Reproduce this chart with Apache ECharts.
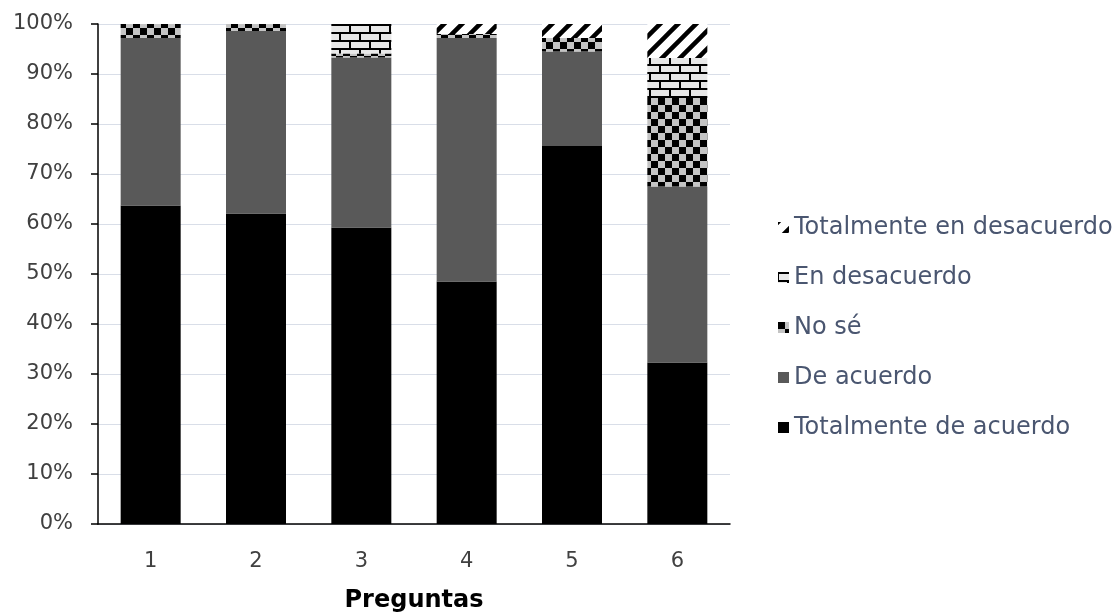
<!DOCTYPE html>
<html>
<head>
<meta charset="utf-8">
<script src="https://cdn.jsdelivr.net/npm/echarts@6/dist/echarts.min.js"></script>
<style>
  html, body { margin: 0; padding: 0; background: #ffffff; }
  #chart { width: 1118px; height: 615px; }
</style>
</head>
<body>
<div id="chart"></div>
<script>
// Survey answers per question, as percentage of respondents
const categories = ['1', '2', '3', '4', '5', '6'];
const totalmenteDeAcuerdo = [63.7, 62.1, 59.3, 48.5, 75.6, 32.3];
const deAcuerdo = [33.5, 36.5, 34.0, 48.7, 18.9, 35.2];
const noSe = [2.8, 1.4, 0.8, 0.8, 2.7, 17.7];
const enDesacuerdo = [0, 0, 5.9, 0, 0, 8.0];
const totalmenteEnDesacuerdo = [0, 0, 0, 2.0, 2.8, 6.8];
const yTicks = [0, 10, 20, 30, 40, 50, 60, 70, 80, 90, 100];

const FONT = '"DejaVu Sans", "Open Sans", sans-serif';

// Fill tiles for the patterned segments
function tile(w, h, draw) {
  const c = document.createElement('canvas');
  c.width = w; c.height = h;
  const g = c.getContext('2d');
  draw(g, w, h);
  return { image: c, repeat: 'repeat' };
}

const checker = tile(14, 14, (g) => {
  g.fillStyle = '#c4c4c4'; g.fillRect(0, 0, 14, 14);
  g.fillStyle = '#000000';
  g.fillRect(0, 0, 7, 7);
  g.fillRect(7, 7, 7, 7);
});

const brick = tile(20, 16, (g) => {
  g.fillStyle = '#000000'; g.fillRect(0, 0, 20, 16);
  g.fillStyle = '#e8e8e8';
  g.fillRect(1, 2, 18, 6);
  g.fillRect(11, 10, 18, 6);
  g.fillRect(-9, 10, 18, 6);
});

const stripes = tile(18, 18, (g) => {
  g.fillStyle = '#ffffff'; g.fillRect(0, 0, 18, 18);
  g.strokeStyle = '#000000'; g.lineWidth = 4.5;
  g.beginPath();
  for (let k = -18; k <= 36; k += 18) {
    g.moveTo(k - 2, 20);
    g.lineTo(k + 20, -2);
  }
  g.stroke();
});

function bar(name, data, fill) {
  return {
    name: name,
    type: 'bar',
    stack: 'total',
    data: data,
    barWidth: 60,
    itemStyle: { color: fill },
    emphasis: { disabled: true }
  };
}

const chart = echarts.init(document.getElementById('chart'), null, { renderer: 'canvas' });

chart.setOption({
  animation: false,
  backgroundColor: '#ffffff',
  grid: { left: 98, top: 24, width: 632, height: 500, containLabel: false, outerBoundsMode: 'none' },
  legend: {
    orient: 'vertical',
    left: 773,
    top: 210,
    itemWidth: 11,
    itemHeight: 11,
    itemGap: 25,
    icon: 'rect',
    data: ['Totalmente en desacuerdo', 'En desacuerdo', 'No sé', 'De acuerdo', 'Totalmente de acuerdo'],
    textStyle: { fontFamily: FONT, fontSize: 24, color: '#4a5670', lineHeight: 25 },
    selectedMode: false
  },
  xAxis: {
    type: 'category',
    data: categories,
    name: 'Preguntas',
    nameLocation: 'middle',
    nameGap: 65,
    nameTextStyle: { fontFamily: FONT, fontSize: 24, fontWeight: 'bold', color: '#000000' },
    axisLine: { lineStyle: { color: '#000000', width: 1.5 } },
    axisTick: { show: false },
    axisLabel: { fontFamily: FONT, fontSize: 21, color: '#404040', margin: 27 }
  },
  yAxis: {
    type: 'value',
    min: yTicks[0],
    max: yTicks[yTicks.length - 1],
    interval: 10,
    axisLine: { show: true, lineStyle: { color: '#000000', width: 1.5 } },
    axisTick: { show: true, inside: false, length: 7, lineStyle: { color: '#000000', width: 1.5 } },
    splitLine: { lineStyle: { color: '#d9dee8', width: 1 } },
    axisLabel: { fontFamily: FONT, fontSize: 21, color: '#404040', margin: 25, formatter: '{value}%' }
  },
  series: [
    bar('Totalmente de acuerdo', totalmenteDeAcuerdo, '#000000'),
    bar('De acuerdo', deAcuerdo, '#595959'),
    bar('No sé', noSe, checker),
    bar('En desacuerdo', enDesacuerdo, brick),
    bar('Totalmente en desacuerdo', totalmenteEnDesacuerdo, stripes)
  ]
});
</script>
</body>
</html>
